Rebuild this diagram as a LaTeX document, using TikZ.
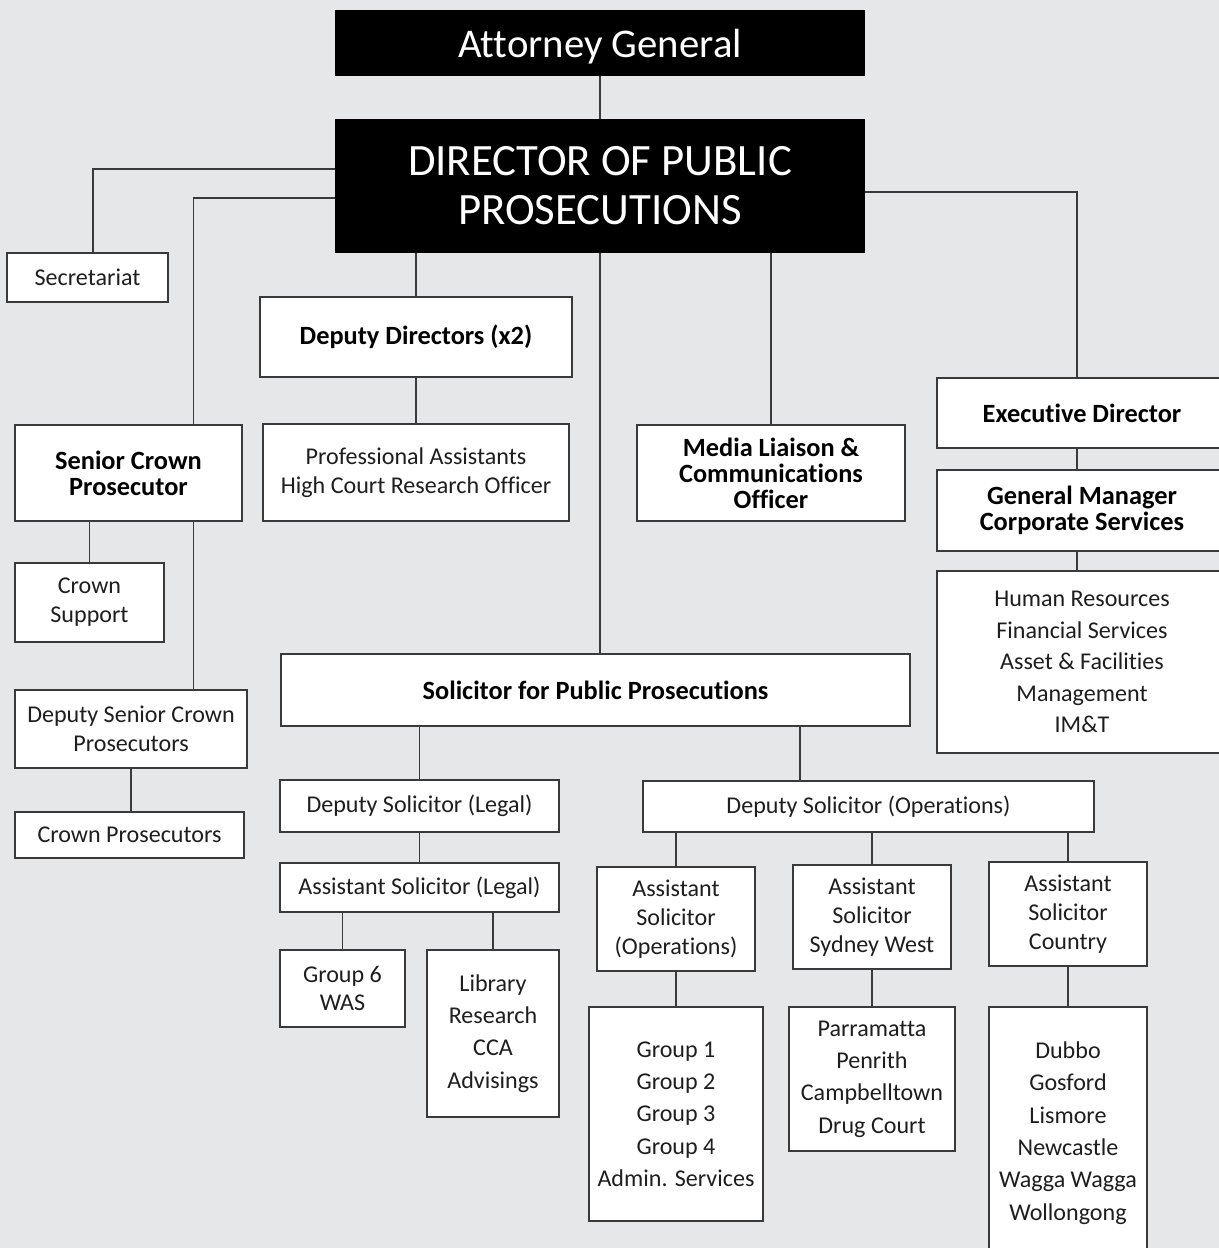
\documentclass[tikz,border=0pt]{standalone}
\usepackage{fontspec}
\setmainfont[Ligatures={NoCommon,NoContextual}]{Carlito}
\definecolor{pagegrey}{HTML}{E6E7E8}
\definecolor{linegrey}{HTML}{3A3A3A}
\definecolor{inkgrey}{HTML}{1E1E1E}

\begin{document}
\begin{tikzpicture}[x=0.02cm,y=-0.02cm,
    box/.style={draw=linegrey,fill=white,line width=0.85pt,inner sep=0pt,align=center,
      text=inkgrey,font=\fontsize{13.7}{16.4}\selectfont},
    listbox/.style={box,font=\fontsize{13.7}{18.4}\selectfont},
    headbox/.style={box,text=black,font=\bfseries\fontsize{15}{14.8}\selectfont},
    topbox/.style={fill=black,text=white,inner sep=0pt,align=center},
    link/.style={draw=linegrey,line width=0.85pt}
  ]
  \clip (0,0) rectangle (1219,1248);
  \fill[pagegrey] (0,0) rectangle (1219,1248);

  \node[topbox,minimum width=10.6cm,minimum height=1.32cm,text depth=0pt,font=\fontsize{23.2}{26}\selectfont] (ag) at (600,43) {Attorney General};
  \node[topbox,minimum width=10.6cm,minimum height=2.68cm,font=\fontsize{25.5}{27.8}\selectfont] (dpp) at (600,186) {DIRECTOR OF PUBLIC\\PROSECUTIONS};

  \node[box,minimum width=3.22cm,minimum height=0.98cm] (sec) at (87.5,277.5) {Secretariat};
  \node[headbox,minimum width=4.54cm,minimum height=1.92cm] (scp) at (128.5,473) {Senior Crown\\Prosecutor};
  \node[box,minimum width=2.98cm,minimum height=1.58cm] (cs) at (89.5,602.5) {Crown\\Support};
  \node[box,minimum width=4.64cm,minimum height=1.56cm] (dscp) at (131,729) {Deputy Senior Crown\\Prosecutors};
  \node[box,minimum width=4.58cm,minimum height=0.92cm] (cp) at (129.5,835) {Crown Prosecutors};

  \node[headbox,minimum width=6.24cm,minimum height=1.6cm] (dd) at (416,337) {Deputy Directors (x2)};
  \node[box,minimum width=6.12cm,minimum height=1.94cm] (pa) at (416,472.5) {Professional Assistants\\High Court Research Officer};
  \node[headbox,minimum width=5.36cm,minimum height=1.92cm] (media) at (771,473) {Media Liaison \&\\Communications\\Officer};

  \node[headbox,minimum width=5.8cm,minimum height=1.4cm] (exec) at (1082,413) {Executive Director};
  \node[headbox,minimum width=5.8cm,minimum height=1.62cm] (gm) at (1082,510.5) {General Manager\\Corporate Services};
  \node[listbox,minimum width=5.8cm,minimum height=3.64cm,font=\fontsize{13.7}{17.9}\selectfont] (hr) at (1082,662) {Human Resources\\Financial Services\\Asset \& Facilities\\Management\\IM\&T};

  \node[headbox,minimum width=12.58cm,minimum height=1.44cm] (spp) at (595.5,690) {Solicitor for Public Prosecutions};
  \node[box,minimum width=5.58cm,minimum height=1.04cm] (dsl) at (419.5,806) {Deputy Solicitor (Legal)};
  \node[box,minimum width=9.02cm,minimum height=1.02cm] (dso) at (868.5,806.5) {Deputy Solicitor (Operations)};
  \node[box,minimum width=5.58cm,minimum height=0.98cm] (asl) at (419.5,887.5) {Assistant Solicitor (Legal)};
  \node[box,minimum width=2.5cm,minimum height=1.54cm] (g6) at (342.5,988.5) {Group 6\\WAS};
  \node[listbox,minimum width=2.64cm,minimum height=3.34cm] (lib) at (493,1033.5) {Library\\Research\\CCA\\Advisings};

  \node[box,minimum width=3.16cm,minimum height=2.08cm] (aso) at (676,919) {Assistant\\Solicitor\\(Operations)};
  \node[box,minimum width=3.16cm,minimum height=2.08cm] (assw) at (872,917) {Assistant\\Solicitor\\Sydney West};
  \node[box,minimum width=3.16cm,minimum height=2.08cm] (asc) at (1068,914) {Assistant\\Solicitor\\Country};
  \node[listbox,minimum width=3.48cm,minimum height=4.28cm] (grp) at (676,1114) {Group 1\\Group 2\\Group 3\\Group 4\\Admin. Services};
  \node[listbox,minimum width=3.32cm,minimum height=2.88cm] (par) at (872,1079) {Parramatta\\Penrith\\Campbelltown\\Drug Court};
  \node[listbox,minimum width=3.16cm,minimum height=5.04cm] (dub) at (1068,1133) {Dubbo\\Gosford\\Lismore\\Newcastle\\Wagga Wagga\\Wollongong};

  \coordinate (secline) at (93,0);
  \coordinate (crownline) at (193.5,0);
  \coordinate (corpline) at (1077,0);
  \coordinate (opsline) at (800,0);

  \draw[link] (ag.south) -- (dpp.north);
  \draw[link] ([yshift=0.34cm]dpp.west) -| (secline |- sec.north);
  \draw[link] ([yshift=-0.24cm]dpp.west) -| (crownline |- scp.north);
  \draw[link] (dd.north |- dpp.south) -- (dd.north);
  \draw[link] (media.north |- dpp.south) -- (media.north);
  \draw[link] (dpp.south) -- (dpp.south |- spp.north);
  \draw[link] ([yshift=-0.12cm]dpp.east) -| (corpline |- exec.north);
  \draw[link] (corpline |- exec.south) -- (corpline |- gm.north);
  \draw[link] (corpline |- gm.south) -- (corpline |- hr.north);
  \draw[link] (dd.south) -- (pa.north);
  \draw[link] (cs.north |- scp.south) -- (cs.north);
  \draw[link] (crownline |- scp.south) -- (crownline |- dscp.north);
  \draw[link] (dscp.south) -- (dscp.south |- cp.north);
  \draw[link] (dsl.north |- spp.south) -- (dsl.north);
  \draw[link] (opsline |- spp.south) -- (opsline |- dso.north);
  \draw[link] (dsl.south) -- (asl.north);
  \draw[link] (g6.north |- asl.south) -- (g6.north);
  \draw[link] (lib.north |- asl.south) -- (lib.north);
  \draw[link] (aso.north |- dso.south) -- (aso.north);
  \draw[link] (assw.north |- dso.south) -- (assw.north);
  \draw[link] (asc.north |- dso.south) -- (asc.north);
  \draw[link] (aso.south) -- (grp.north);
  \draw[link] (assw.south) -- (par.north);
  \draw[link] (asc.south) -- (dub.north);
\end{tikzpicture}
\end{document}
